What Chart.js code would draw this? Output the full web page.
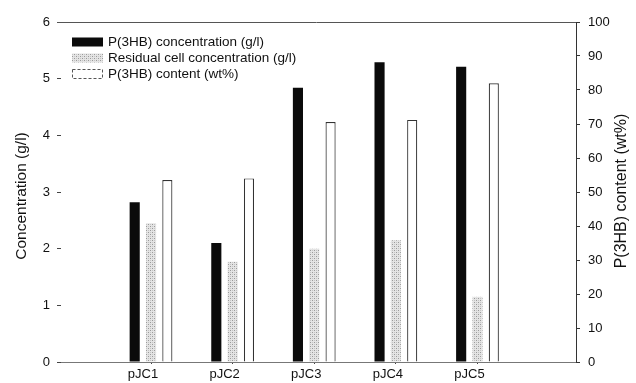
<!DOCTYPE html>
<html>
<head>
<meta charset="utf-8">
<script src="https://cdn.jsdelivr.net/npm/chart.js@4/dist/chart.umd.min.js"></script>
<style>
  html, body { margin: 0; padding: 0; background: #fff; }
  #wrap { width: 636px; height: 383px; position: relative; }
</style>
</head>
<body>
<div id="wrap"><canvas id="myChart"></canvas></div>
<script>
var strains = ['pJC1', 'pJC2', 'pJC3', 'pJC4', 'pJC5'];
var p3hbConc = [2.82, 2.10, 4.84, 5.29, 5.21];      // g/l, left axis
var residualConc = [2.45, 1.77, 2.00, 2.15, 1.15];  // g/l, left axis
var p3hbContent = [53.5, 54, 70.6, 71.2, 82];       // wt%, right axis
var leftTicks = [0, 1, 2, 3, 4, 5, 6];
var rightTicks = [0, 10, 20, 30, 40, 50, 60, 70, 80, 90, 100];

var FONT = '"Liberation Sans", Arial, Helvetica, sans-serif';

// stippled light grey like the scanned figure
function stipple() {
    var c = document.createElement('canvas');
    c.width = 4; c.height = 4;
    var g = c.getContext('2d');
    g.fillStyle = '#e4e4e4';
    g.fillRect(0, 0, 4, 4);
    g.fillStyle = '#9a9a9a';
    g.fillRect(0, 0, 1, 1);
    g.fillRect(2, 2, 1, 1);
    g.fillStyle = '#c4c4c4';
    g.fillRect(2, 0, 1, 1);
    g.fillRect(0, 2, 1, 1);
    return g.createPattern(c, 'repeat');
}
var grey = stipple();

function pts(arr) {
    return arr.map(function (v, i) { return { x: i + 1, y: v }; });
}

var barOpts = { categoryPercentage: 0.6, barPercentage: 0.62 };

var datasets = [
    Object.assign({ label: 'P(3HB) concentration (g/l)', data: pts(p3hbConc), yAxisID: 'y',
        backgroundColor: '#0b0b0b', borderWidth: 0 }, barOpts),
    Object.assign({ label: 'Residual cell concentration (g/l)', data: pts(residualConc), yAxisID: 'y',
        backgroundColor: grey, borderWidth: 0 }, barOpts),
    Object.assign({ label: 'P(3HB) content (wt%)', data: pts(p3hbContent), yAxisID: 'y1',
        backgroundColor: '#ffffff', borderColor: '#333', borderWidth: 1.2 }, barOpts)
];

var extras = {
    id: 'extras',
    afterDraw: function (chart) {
        var ctx = chart.ctx, a = chart.chartArea;
        ctx.save();
        // top frame line
        ctx.strokeStyle = '#555';
        ctx.lineWidth = 1;
        ctx.beginPath();
        ctx.moveTo(a.left - 4, a.top + 0.5);
        ctx.lineTo(a.right, a.top + 0.5);
        ctx.stroke();

        // legend
        ctx.font = '13.5px ' + FONT;
        ctx.textBaseline = 'middle';
        ctx.textAlign = 'left';
        var rows = [42, 58, 74];
        chart.data.datasets.forEach(function (ds, i) {
            var y = rows[i];
            ctx.fillStyle = ds.backgroundColor;
            ctx.fillRect(72, y - 4.5, 31, 9);
            if (ds.borderWidth) {
                ctx.strokeStyle = '#555';
                ctx.lineWidth = 1;
                ctx.setLineDash([3, 2]);
                ctx.strokeRect(72.5, y - 4.5, 30, 9);
                ctx.setLineDash([]);
            }
            ctx.fillStyle = '#111';
            ctx.fillText(ds.label, 108, y);
        });

        // axis titles, both reading bottom to top
        ctx.fillStyle = '#111';
        ctx.textAlign = 'center';
        ctx.font = '15.5px ' + FONT;
        ctx.translate(22, 196);
        ctx.rotate(-Math.PI / 2);
        ctx.fillText('Concentration (g/l)', 0, 0);
        ctx.setTransform(1, 0, 0, 1, 0, 0);
        ctx.font = '16px ' + FONT;
        ctx.translate(622, 191);
        ctx.rotate(-Math.PI / 2);
        ctx.fillText('P(3HB) content (wt%)', 0, 0);
        ctx.restore();
    }
};

var ctx = document.getElementById('myChart').getContext('2d');
var chart = new Chart(ctx, {
    type: 'bar',
    data: { datasets: datasets },
    options: {
        responsive: true,
        maintainAspectRatio: false,
        animation: false,
        layout: { padding: { top: 22, left: 0, right: 0, bottom: 0 } },
        plugins: { legend: { display: false }, tooltip: { enabled: false } },
        scales: {
            x: {
                type: 'linear',
                offset: false,
                min: -0.103,
                max: 6.207,
                afterBuildTicks: function (s) {
                    s.ticks = strains.map(function (c, i) { return { value: i + 1 }; });
                },
                afterFit: function (s) { s.height = 21; },
                ticks: {
                    callback: function (v) { return strains[v - 1] || ''; },
                    font: { family: FONT, size: 13 },
                    color: '#111',
                    padding: 3,
                    labelOffset: -8,
                    maxRotation: 0,
                    autoSkip: false
                },
                grid: { offset: false, drawOnChartArea: false, tickLength: 2, color: '#444' },
                border: { display: true, color: '#777', dash: [1, 2] }
            },
            y: {
                position: 'left',
                min: 0,
                max: 6,
                afterBuildTicks: function (s) {
                    s.ticks = leftTicks.map(function (v) { return { value: v }; });
                },
                afterFit: function (s) { s.width = 61; },
                ticks: {
                    font: { family: FONT, size: 13 },
                    color: '#111',
                    padding: 7
                },
                grid: { drawOnChartArea: false, tickLength: 4, color: '#444' },
                border: { display: false }
            },
            y1: {
                position: 'right',
                min: 0,
                max: 100,
                afterBuildTicks: function (s) {
                    s.ticks = rightTicks.map(function (v) { return { value: v }; });
                },
                afterFit: function (s) { s.width = 60; },
                ticks: {
                    font: { family: FONT, size: 13 },
                    color: '#111',
                    padding: 8
                },
                grid: { drawOnChartArea: false, tickLength: 4, color: '#333' },
                border: { display: true, color: '#333', width: 1 }
            }
        }
    },
    plugins: [extras]
});
</script>
</body>
</html>
